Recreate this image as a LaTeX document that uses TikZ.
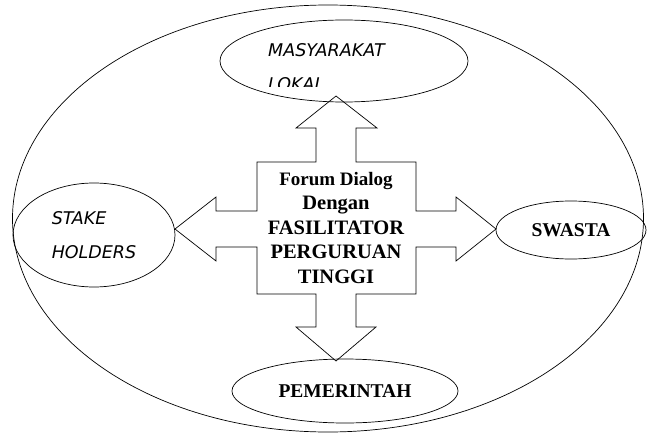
\documentclass[tikz,border=0pt]{standalone}
\usepackage{fontspec}
\setmainfont{Liberation Serif}
\newfontfamily\verdanalike{DejaVu Sans}
\usetikzlibrary{shapes, arrows.meta, positioning, calc}

\tikzset{
  party/.style={draw, ellipse, line width=0.7pt, inner sep=0pt},
  serifbold/.style={font=\bfseries\fontsize{19.5}{23}\selectfont},
  sansital/.style={font=\verdanalike\itshape\fontsize{17.5}{34}\selectfont, align=left}
}

\begin{document}
\begin{tikzpicture}[x=1pt, y=-1pt]
  \fill[white] (0,0) rectangle (647,433);
  % outer boundary
  \node[party, minimum width=631pt, minimum height=427pt] (outer) at (328,218.5) {};
  % actors round the forum
  \node[party, minimum width=248pt, minimum height=82pt] (masyarakat) at (344,61) {};
  \begin{scope}
    \clip (220,20) rectangle (470,87);
    \node[sansital, anchor=base west, inner sep=0pt] (masyarakattext) at (268,91) {MASYARAKAT\\LOKAL};
  \end{scope}
  \node[party, sansital, minimum width=162pt, minimum height=104pt] (stake) at (94,235) {STAKE\\HOLDERS};
  \node[party, serifbold, minimum width=150pt, minimum height=58pt] (swasta) at (571,230) {SWASTA};
  \node[party, serifbold, minimum width=226pt, minimum height=64pt] (pemerintah) at (345,391) {PEMERINTAH};
  % four-way arrow
  \draw[line width=0.7pt] (336,96) -- (377,128) -- (356,128) -- (356,162) -- (416,162) -- (416,211)
    -- (456,211) -- (456,197) -- (496,229) -- (456,261) -- (456,247) -- (416,247) -- (416,294)
    -- (356,294) -- (356,327) -- (376,327) -- (336,361) -- (296,327) -- (316,327) -- (316,294)
    -- (257,294) -- (257,247) -- (216,247) -- (216,261) -- (175,229) -- (216,197) -- (216,211)
    -- (257,211) -- (257,162) -- (316,162) -- (316,128) -- (296,128) -- cycle;
  \node[align=center, inner sep=0pt, font=\bfseries\fontsize{20.5}{24.5}\selectfont] (forum) at (336,228)
    {\fontsize{19}{24.5}\selectfont Forum Dialog\\Dengan\\\fontsize{20.5}{24.5}\selectfont FASILITATOR\\PERGURUAN\\TINGGI};
\end{tikzpicture}
\end{document}
